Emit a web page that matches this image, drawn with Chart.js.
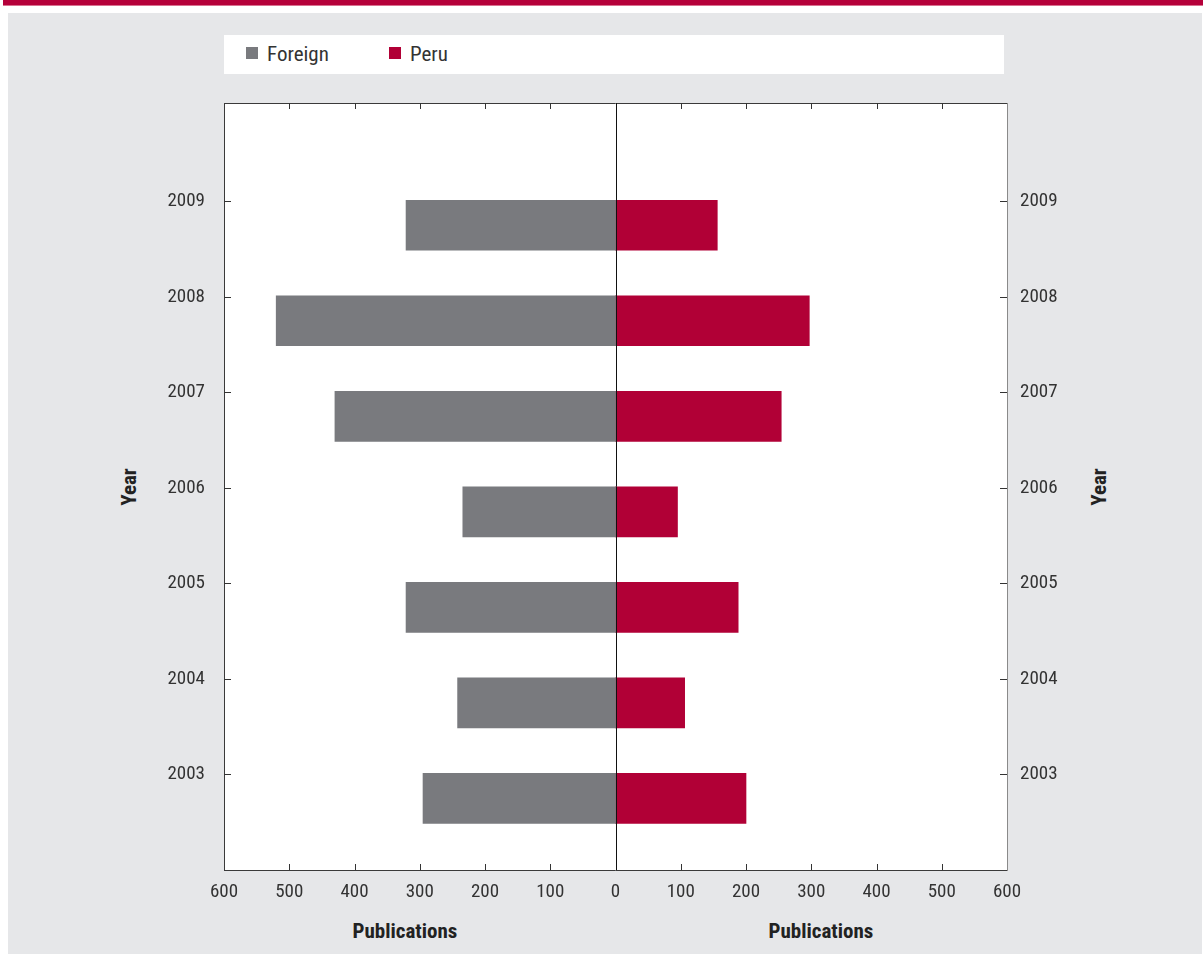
<!DOCTYPE html>
<html>
<head>
<meta charset="utf-8">
<script src="https://cdn.jsdelivr.net/npm/chart.js@4.4.1/dist/chart.umd.min.js"></script>
<style>
  html, body { margin:0; padding:0; background:#ffffff; }
  body { width:1203px; height:954px; position:relative; overflow:hidden;
         font-family:'Roboto Condensed','Liberation Sans',Arial,sans-serif; color:#333; }
  #band { position:absolute; left:3px; top:0; width:1200px; height:5px; background:#b5003a; border-bottom:1px solid #d9708f; }
  #panel { position:absolute; left:8px; top:13px; width:1194px; height:941px; background:#e6e7e9; }
  #legend { position:absolute; left:224px; top:35px; width:780px; height:39px; background:#fff; }
  .sw { position:absolute; top:12px; width:12px; height:12px; }
  .lt { position:absolute; top:6px; font-size:21px; line-height:26px; color:#333; }
  .ytitle { position:absolute; font-weight:bold; font-size:21px; color:#222; transform:rotate(-90deg); transform-origin:center; width:60px; text-align:center; line-height:24px; }
  .xtitle { position:absolute; font-weight:bold; font-size:21px; color:#222; width:200px; text-align:center; line-height:24px; top:919px; }
  canvas { position:absolute; left:0; top:0; }
</style>
</head>
<body>
<div id="band"></div>
<div id="panel"></div>
<div id="legend">
  <div class="sw" style="left:22px;background:#797a7e"></div><div class="lt" style="left:43px">Foreign</div>
  <div class="sw" style="left:165px;background:#b10036"></div><div class="lt" style="left:186px">Peru</div>
</div>
<div class="ytitle" style="left:99px;top:475px">Year</div>
<div class="ytitle" style="left:1069px;top:475px">Year</div>
<div class="xtitle" style="left:305px">Publications</div>
<div class="xtitle" style="left:721px">Publications</div>
<canvas id="c" width="1203" height="954"></canvas>
<script>
const years   = [2003, 2004, 2005, 2006, 2007, 2008, 2009];
const foreign = [295, 242, 321, 234, 430, 520, 321];
const peru    = [200, 106, 188, 95, 254, 297, 156];
const xTicks  = [-600, -500, -400, -300, -200, -100, 0, 100, 200, 300, 400, 500, 600];

const FONT = "'Roboto Condensed','Liberation Sans',Arial,sans-serif";
Chart.defaults.font.family = FONT;
Chart.defaults.color = '#333';

const Y_MIN = 2002, Y_MAX = 2010.03;
const BAR_SHIFT = 0.25; // bars hang just below their year tick

const framePlugin = {
  id: 'frame',
  beforeDatasetsDraw(chart) {
    const {ctx, chartArea:a} = chart;
    ctx.save();
    ctx.fillStyle = '#ffffff';
    ctx.fillRect(a.left, a.top, a.right - a.left, a.bottom - a.top);
    ctx.restore();
  },
  afterDatasetsDraw(chart) {
    const {ctx, chartArea:a, scales} = chart;
    const x = scales.x, y = scales.y;
    ctx.save();
    ctx.lineWidth = 1;
    ctx.strokeStyle = '#3a3a3a';
    ctx.beginPath();
    ctx.moveTo(a.left + 0.5, a.top + 0.5); ctx.lineTo(a.left + 0.5, a.bottom + 0.5);
    ctx.moveTo(a.left, a.top + 0.5); ctx.lineTo(a.right, a.top + 0.5);
    ctx.moveTo(a.left, a.bottom + 0.5); ctx.lineTo(a.right, a.bottom + 0.5);
    ctx.stroke();
    ctx.strokeStyle = '#8a8a8a';
    ctx.beginPath();
    ctx.moveTo(a.right + 0.5, a.top); ctx.lineTo(a.right + 0.5, a.bottom + 1);
    ctx.stroke();
    ctx.strokeStyle = '#111';
    const x0 = Math.round(x.getPixelForValue(0)) + 0.5;
    ctx.beginPath(); ctx.moveTo(x0, a.top); ctx.lineTo(x0, a.bottom); ctx.stroke();
    ctx.strokeStyle = '#333';
    ctx.beginPath();
    x.ticks.forEach(t => {
      if (t.value === 0 || Math.abs(t.value) === 600) return;
      const px = Math.round(x.getPixelForValue(t.value)) + 0.5;
      ctx.moveTo(px, a.top); ctx.lineTo(px, a.top + 6);
      ctx.moveTo(px, a.bottom); ctx.lineTo(px, a.bottom - 6);
    });
    y.ticks.forEach(t => {
      if (!years.includes(t.value)) return;
      const py = Math.round(y.getPixelForValue(t.value)) + 0.5;
      ctx.moveTo(a.left, py); ctx.lineTo(a.left + 7, py);
      ctx.moveTo(a.right, py); ctx.lineTo(a.right - 7, py);
    });
    ctx.stroke();
    ctx.restore();
  }
};

const yTickCb = v => years.includes(v) ? String(v) : '';
const yTickBuild = s => { s.ticks = years.map(v => ({ value: v })); };

new Chart(document.getElementById('c'), {
  type: 'bar',
  data: {
    datasets: [
      { label: 'Foreign', data: years.map((yr, i) => ({ x: -foreign[i], y: yr })),
        backgroundColor: '#797a7e', yAxisID: 'yb', xAxisID: 'x' },
      { label: 'Peru', data: years.map((yr, i) => ({ x: peru[i], y: yr })),
        backgroundColor: '#b10036', yAxisID: 'yb', xAxisID: 'x' }
    ]
  },
  options: {
    indexAxis: 'y',
    responsive: false,
    animation: false,
    devicePixelRatio: 1,
    layout: { padding: { top: 103, left: 0, right: 0, bottom: 0 } },
    datasets: { bar: { grouped: false, barThickness: 50 } },
    plugins: { legend: { display: false }, tooltip: { enabled: false } },
    scales: {
      x: {
        type: 'linear', position: 'bottom', min: -600, max: 600, offset: false,
        afterBuildTicks: s => { s.ticks = xTicks.map(v => ({ value: v })); },
        ticks: { callback: v => String(Math.abs(v)), font: { size: 19 }, padding: 11, maxRotation: 0, color: '#333' },
        grid: { display: false, drawTicks: false, offset: false }, border: { display: false },
        afterFit: s => { s.height = 84; }
      },
      y: {
        type: 'linear', position: 'left', min: Y_MIN, max: Y_MAX, offset: false,
        afterBuildTicks: yTickBuild,
        ticks: { callback: yTickCb, font: { size: 19 }, padding: 19, color: '#333' },
        grid: { display: false, drawTicks: false, offset: false }, border: { display: false },
        afterFit: s => { s.width = 224; }
      },
      y2: {
        type: 'linear', position: 'right', min: Y_MIN, max: Y_MAX, offset: false,
        afterBuildTicks: yTickBuild,
        ticks: { callback: yTickCb, font: { size: 19 }, padding: 13, color: '#333' },
        grid: { display: false, drawTicks: false, offset: false }, border: { display: false },
        afterFit: s => { s.width = 196; }
      },
      yb: {
        type: 'linear', display: false, offset: false, min: Y_MIN + BAR_SHIFT, max: Y_MAX + BAR_SHIFT
      }
    }
  },
  plugins: [framePlugin]
});
</script>
</body>
</html>
